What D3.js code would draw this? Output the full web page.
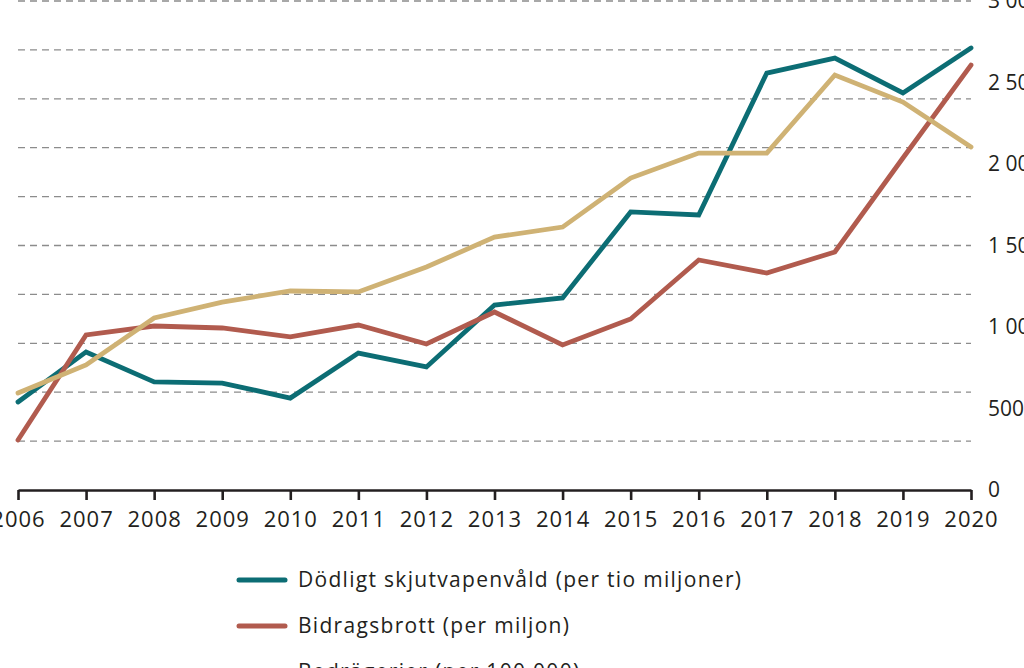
<!DOCTYPE html>
<html>
<head>
<meta charset="utf-8">
<script src="https://cdn.jsdelivr.net/npm/d3@7"></script>
<style>
  body { margin: 0; background: #fff; overflow: hidden; }
  svg { display: block; }
</style>
</head>
<body>
<div id="wrapper"></div>
<script>
// data (right-hand scale)
const years = [2006, 2007, 2008, 2009, 2010, 2011, 2012, 2013, 2014, 2015, 2016, 2017, 2018, 2019, 2020]
const skjutvapen = [540, 847, 663, 656, 564, 840, 755, 1135, 1178, 1706, 1687, 2558, 2650, 2436, 2712]
const bidrag = [307, 951, 1006, 994, 939, 1012, 896, 1092, 890, 1049, 1411, 1331, 1460, 2037, 2607]
const bedrageri = [595, 767, 1055, 1153, 1221, 1215, 1368, 1552, 1613, 1914, 2067, 2067, 2546, 2380, 2104]
const gridValues = [300, 600, 900, 1200, 1500, 1800, 2100, 2400, 2700, 3000]
const yTickValues = [0, 500, 1000, 1500, 2000, 2500, 3000]
const seriesNames = ["Dödligt skjutvapenvåld (per tio miljoner)", "Bidragsbrott (per miljon)", "Bedrägerier (per 100 000)"]
const seriesColors = ["#0c6d74", "#b15b4e", "#cfb274"]

function drawChart() {
  const width = 1024
  const height = 668

  let dimensions = {
    width,
    height,
    margin: { top: 1, right: 53, bottom: 178, left: 18 }
  }
  dimensions.boundedWidth = dimensions.width - dimensions.margin.left - dimensions.margin.right
  dimensions.boundedHeight = dimensions.height - dimensions.margin.top - dimensions.margin.bottom

  const svg = d3.select("#wrapper")
    .append("svg")
    .attr("width", dimensions.width)
    .attr("height", dimensions.height)

  const bounds = svg.append("g")
    .attr("transform", `translate(${dimensions.margin.left},${dimensions.margin.top})`)

  const xScale = d3.scaleLinear()
    .domain([2006, 2020])
    .range([0, dimensions.boundedWidth])

  const yScale = d3.scaleLinear()
    .domain([0, 3000])
    .range([dimensions.boundedHeight, 0])

  // dashed grid
  bounds.append("g")
    .selectAll("line")
    .data(gridValues)
    .join("line")
    .attr("x1", 0)
    .attr("x2", dimensions.boundedWidth)
    .attr("y1", d => yScale(d))
    .attr("y2", d => yScale(d))
    .attr("stroke", "#8c8c8c")
    .attr("stroke-width", 1.3)
    .attr("stroke-dasharray", "7 5")

  // right axis labels (no line), thousands split by a space
  bounds.append("g")
    .selectAll("text")
    .data(yTickValues)
    .join("text")
    .attr("x", dimensions.boundedWidth + 17)
    .attr("y", d => yScale(d))
    .attr("dy", "0.35em")
    .text(d => d3.format(",")(d).replace(",", " "))
    .style("font-family", "'Open Sans', sans-serif")
    .style("font-size", "21px")
    .style("fill", "#231f20")

  // lines
  const allSeries = [skjutvapen, bidrag, bedrageri]
  const lineGenerator = d3.line()
    .x((d, i) => xScale(years[i]))
    .y(d => yScale(d))

  bounds.append("g")
    .selectAll("path")
    .data(allSeries)
    .join("path")
    .attr("d", lineGenerator)
    .attr("fill", "none")
    .attr("stroke", (d, i) => seriesColors[i])
    .attr("stroke-width", 4.8)
    .attr("stroke-linejoin", "miter")
    .attr("stroke-linecap", "round")

  // x axis
  const xAxisGenerator = d3.axisBottom(xScale)
    .tickValues(years)
    .tickFormat(d3.format("d"))
    .tickSize(10)
    .tickSizeOuter(0)
    .tickPadding(11)

  const xAxis = bounds.append("g")
    .attr("transform", `translate(0,${dimensions.boundedHeight})`)
    .call(xAxisGenerator)

  xAxis.select(".domain")
    .attr("stroke", "#231f20")
    .attr("stroke-width", 2.6)
  xAxis.selectAll(".tick line")
    .attr("stroke", "#231f20")
    .attr("stroke-width", 2.6)
  xAxis.selectAll(".tick text")
    .style("font-family", "'Open Sans', sans-serif")
    .style("font-size", "22px")
    .style("letter-spacing", "1px")
    .style("fill", "#231f20")

  // legend
  const legend = svg.append("g")
    .attr("transform", "translate(237,580)")

  const items = legend.selectAll("g")
    .data(seriesNames)
    .join("g")
    .attr("transform", (d, i) => `translate(0,${i * 46})`)

  items.append("line")
    .attr("x1", 2)
    .attr("x2", 48)
    .attr("stroke", (d, i) => seriesColors[i])
    .attr("stroke-width", 5)
    .attr("stroke-linecap", "round")

  items.append("text")
    .attr("x", 61)
    .attr("dy", "0.35em")
    .text(d => d)
    .style("font-family", "'Open Sans', sans-serif")
    .style("font-size", "21px")
    .style("letter-spacing", "1.3px")
    .style("fill", "#231f20")
}
drawChart()
</script>
</body>
</html>
